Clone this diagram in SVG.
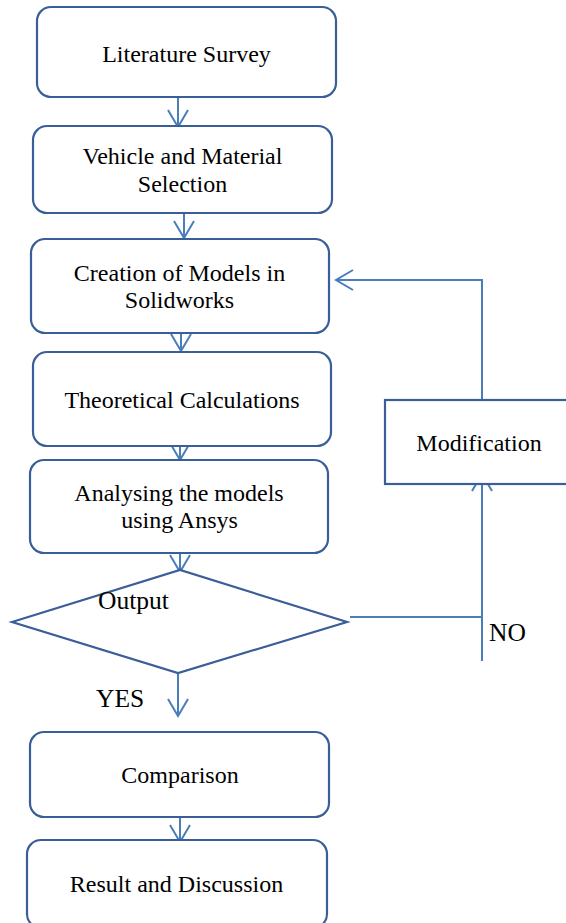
<svg xmlns="http://www.w3.org/2000/svg" width="566" height="923" viewBox="0 0 566 923">
<defs>
<style>
.box{fill:#fff;stroke:#3A5E9A;stroke-width:2.2}
.t{font-family:"Liberation Serif","Times New Roman",serif;font-size:24px;fill:#000;text-anchor:middle}
.tl{font-family:"Liberation Serif","Times New Roman",serif;font-size:25.5px;fill:#000}
.c{fill:none;stroke:#4A7EBB;stroke-width:2}
</style>
<marker id="ah" viewBox="0 0 20 22" refX="18" refY="11" markerWidth="20" markerHeight="22" markerUnits="userSpaceOnUse" orient="auto">
<path d="M1,1 L18,11 L1,21" fill="none" stroke="#4A7EBB" stroke-width="2"/>
</marker>
</defs>
<rect width="566" height="923" fill="#fff"/>
<g id="connectors">
<line class="c" x1="178" y1="91" x2="178" y2="127" marker-end="url(#ah)"/>
<line class="c" x1="184" y1="200" x2="184" y2="238" marker-end="url(#ah)"/>
<line class="c" x1="181" y1="330" x2="181" y2="351" marker-end="url(#ah)"/>
<line class="c" x1="180" y1="432" x2="180" y2="460" marker-end="url(#ah)"/>
<line class="c" x1="180" y1="530" x2="180" y2="572" marker-end="url(#ah)"/>
<line class="c" x1="178" y1="673" x2="178" y2="716" marker-end="url(#ah)"/>
<line class="c" x1="180" y1="802" x2="180" y2="842" marker-end="url(#ah)"/>
<polyline class="c" points="350,617 482,617"/>
<line class="c" x1="482" y1="661" x2="482" y2="474" marker-end="url(#ah)"/>
<polyline class="c" points="482,424 482,280 336,280" marker-end="url(#ah)"/>
</g>
<g id="n1"><rect class="box" x="37" y="7" width="299" height="90" rx="14"/><text class="t" x="186.5" y="62">Literature Survey</text></g>
<g id="n2"><rect class="box" x="33" y="126" width="299" height="87" rx="14"/><text class="t" x="182.5" y="164">Vehicle and Material</text><text class="t" x="182.5" y="192">Selection</text></g>
<g id="n3"><rect class="box" x="31" y="239" width="298" height="94" rx="14"/><text class="t" x="179.5" y="281">Creation of Models in</text><text class="t" x="179.5" y="308">Solidworks</text></g>
<g id="n4"><rect class="box" x="33" y="352" width="298" height="94" rx="14"/><text class="t" x="182" y="408">Theoretical Calculations</text></g>
<g id="n5"><rect class="box" x="30" y="460" width="298" height="93" rx="14"/><text class="t" x="179" y="501">Analysing the models</text><text class="t" x="179.5" y="528">using Ansys</text></g>
<g id="n6"><polygon class="box" points="12,622 180,570 347,622 178,673"/><text class="tl" x="98" y="609">Output</text></g>
<g id="n7"><rect class="box" x="30" y="732" width="299" height="85" rx="14"/><text class="t" x="180" y="783">Comparison</text></g>
<g id="n8"><rect class="box" x="27" y="840" width="300" height="88" rx="14"/><text class="t" x="176.5" y="892">Result and Discussion</text></g>
<g id="n9"><rect class="box" x="385" y="400" width="190" height="84"/><text class="t" x="479" y="451">Modification</text></g>
<g id="labels"><text class="tl" x="96" y="707">YES</text><text class="tl" x="489" y="641">NO</text></g>
</svg>
